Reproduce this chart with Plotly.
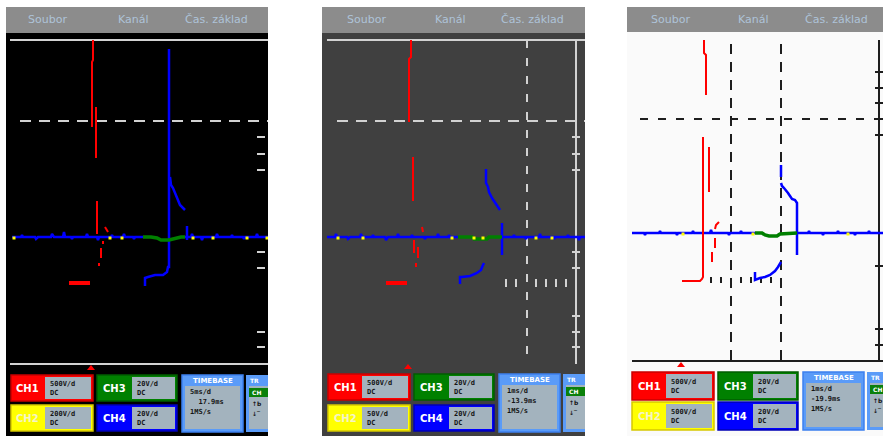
import plotly.graph_objects as go

W, H = 883, 436

HEADER_LABELS = ['Soubor', 'Kanál', 'Čas. základ']
CHANNEL_NAMES = ['CH1', 'CH2', 'CH3', 'CH4']
P1_SETTINGS = ['500V/d<br>DC', '200V/d<br>DC', '20V/d<br>DC', '20V/d<br>DC']
P2_SETTINGS = ['500V/d<br>DC', '50V/d<br>DC', '20V/d<br>DC', '20V/d<br>DC']
P3_SETTINGS = ['500V/d<br>DC', '500V/d<br>DC', '20V/d<br>DC', '20V/d<br>DC']
TIMEBASE_TITLE = 'TIMEBASE'
P1_TIMEBASE = ['5ms/d', '  17.9ms', '1MS/s']
P2_TIMEBASE = ['1ms/d', '-13.9ms', '1MS/s']
P3_TIMEBASE = ['1ms/d', '-19.9ms', '1MS/s']
TRIGGER_TITLE = 'TRIG'
TRIGGER_SOURCE = 'CH4'
TRIGGER_LINES = ['↑b', '↓‾']

# panel 1 (black screen), x = samples, y = level from baseline
P1_RED_X = [82, 82, 81, 81, None, 85, 85, None, 86, 86, None, 94, 97, None, 92, 92, None, 90, 90, None, 88, 88]
P1_RED_Y = [197, 177, 175, 110, None, 130, 79, None, 36, 3, None, 10, 5, None, -4, -7, None, -11, -21, None, -26, -29]
P1_RED_BAR_X = [58, 79]
P1_RED_BAR_Y = [-46, -46]
P1_BLUE_X = [1, 10, 11, 12, 24, 25, 27, 40, 41, 43, 52, 53, 54, 60, 61, 62, 75, 76, 77, 86, 87, 88,
             100, 101, 102, 112, 113, 114, 122, 123, 124, 132, None,
             174, 180, 181, 182, 190, 191, 192, 205, 206, 207, 220, 221, 222, 232, 233, 234, 245, 246, 247,
             257, None,
             134, 134, 137, 144, 152, 156, 157, 158, 158, None,
             159, 160, 162, 164, 167, 169, 172, 174, None, 176, 176]
P1_BLUE_Y = [0, 0, 2, 0, 0, -2, 0, 0, 3, 0, 0, 5, 0, 0, -2, 0, 0, 3, 0, 0, -3, 0,
             0, 2, 0, 0, 3, 0, 0, -2, 0, 0, None,
             0, 0, 3, 0, 0, -3, 0, 0, 3, 0, 0, 2, 0, 0, -2, 0, 0, 3, 0,
             0, None,
             -49, -41, -40, -38, -38, -35, -30, -30, 188, None,
             60, 52, 49, 44, 37, 32, 29, 27, None, 11, -3]
P1_GREEN_X = [132, 140, 146, 150, 158, 166, 170, 174]
P1_GREEN_Y = [0, 0, -1, -3, -3, -1, 0, 0]
P1_YELLOW_X = [3, 99, 111, 182, 202, 236, 256]
P1_YELLOW_Y = [-1, -1, -1, -1, -1, -1, -1]

# panel 2 (dark grey screen)
P2_RED_X = [84, 84, 82, 82, None, 86, 86, None, 95, 96, None, 87, 87, None, 91, 91, None, 89, 89]
P2_RED_Y = [197, 180, 178, 115, None, 80, 36, None, 10, 5, None, -3, -16, None, -10, -21, None, -26, -30]
P2_RED_BAR_X = [59, 80]
P2_RED_BAR_Y = [-46, -46]
P2_BLUE_X = [0, 8, 9, 10, 20, 21, 23, 33, 34, 35, 45, 46, 47, 58, 59, 61, 70, 71, 72, 84, 85, 86,
             97, 98, 99, 110, 111, 112, 121, 122, 123, 131, None,
             175, 186, 187, 188, 198, 199, 200, 212, 213, 214, 226, 227, 228, 240, 241, 242, 251, 252, 253,
             258, None,
             133, 133, 135, 143, 150, 154, 156, 157, None,
             159, 159, 161, 162, 165, 168, 171, 173, None, 175, 175]
P2_BLUE_Y = [0, 0, 3, 0, 0, -2, 0, 0, 3, 0, 0, 2, 0, 0, -3, 0, 0, 3, 0, 0, 2, 0,
             0, -2, 0, 0, 3, 0, 0, 2, 0, 0, None,
             0, 0, 2, 0, 0, -2, 0, 0, 3, 0, 0, -2, 0, 0, 2, 0, 0, -3, 0,
             0, None,
             -47, -40, -40, -39, -36, -33, -28, -26, None,
             68, 54, 50, 45, 39, 34, 29, 27, None, 14, -18]
P2_GREEN_X = [131, 140, 145, 147, 160, 162, 170, 175]
P2_GREEN_Y = [0, 0, 0, -2, -2, 0, 0, 0]
P2_YELLOW_X = [11, 36, 125, 147, 156, 209, 225]
P2_YELLOW_Y = [-1, -1, -1, -1, -1, -1, -1]

# panel 3 (white screen)
P3_RED_X = [72, 72, 74, 74, None, 50, 68, 70, 71, 71, None, 77, 77, None, 83, 84, 86, 87, None, 83, 83, None, 80, 80]
P3_RED_Y = [194, 180, 178, 138, None, -48, -48, -46, -44, 96, None, 86, 41, None, 4, 8, 10, 11, None, -5, -15, None, -19, -29]
P3_BLUE_X = [0, 12, 13, 14, 27, 28, 29, 44, 45, 46, 60, 61, 62, 78, 79, 80, 96, 97, 98, 108, 109, 110,
             123, None,
             165, 176, 177, 178, 190, 191, 192, 205, 206, 207, 222, 223, 224, 236, 237, 238, 251, None,
             123, 123, 128, 133, 138, 143, 146, 149, None,
             149, 149, None, 149, 150, 152, 154, 156, 158, 160, 163, 165, 165]
P3_BLUE_Y = [0, 0, -2, 0, 0, 2, 0, 0, -2, 0, 0, 2, 0, 0, 3, 0, 0, -2, 0, 0, 2, 0,
             0, None,
             0, 0, 2, 0, 0, -2, 0, 0, 2, 0, 0, -2, 0, 0, 2, 0, 0, None,
             -39, -47, -45, -44, -42, -38, -34, -29, None,
             68, 56, None, 50, 47, 45, 43, 40, 37, 34, 33, 30, -22]
P3_GREEN_X = [123, 130, 133, 137, 145, 148, 165]
P3_GREEN_Y = [0, 0, -2, -3, -3, -1, 0]
P3_YELLOW_X = [51, 121, 216]
P3_YELLOW_Y = [-1, -1, -1]

PANELS = [
    dict(left=6, right=268, bg='#000000', grid='#d2d2d2', header_bottom=33,
         screen=(11, 268, 40, 364), base=237, xl=11, rows=(375, 405), row_h=26, tb_bottom=432,
         trig_mark=91, head_x=[47, 133, 216], settings=P1_SETTINGS, timebase=P1_TIMEBASE,
         red=(P1_RED_X, P1_RED_Y), bar=(P1_RED_BAR_X, P1_RED_BAR_Y), blue=(P1_BLUE_X, P1_BLUE_Y),
         green=(P1_GREEN_X, P1_GREEN_Y), yellow=(P1_YELLOW_X, P1_YELLOW_Y)),
    dict(left=322, right=585, bg='#404040', grid='#d2d2d2', header_bottom=33,
         screen=(327, 585, 40, 364), base=237, xl=328, rows=(374, 405), row_h=26, tb_bottom=432,
         trig_mark=408, head_x=[366, 450, 532], settings=P2_SETTINGS, timebase=P2_TIMEBASE,
         red=(P2_RED_X, P2_RED_Y), bar=(P2_RED_BAR_X, P2_RED_BAR_Y), blue=(P2_BLUE_X, P2_BLUE_Y),
         green=(P2_GREEN_X, P2_GREEN_Y), yellow=(P2_YELLOW_X, P2_YELLOW_Y)),
    dict(left=627, right=883, bg='#fafafa', grid='#1e1e1e', header_bottom=32,
         screen=(632, 883, 40, 361), base=233, xl=632, rows=(372, 402), row_h=28, tb_bottom=430,
         trig_mark=681, head_x=[670, 753, 836], settings=P3_SETTINGS, timebase=P3_TIMEBASE,
         red=(P3_RED_X, P3_RED_Y), bar=None, blue=(P3_BLUE_X, P3_BLUE_Y),
         green=(P3_GREEN_X, P3_GREEN_Y), yellow=(P3_YELLOW_X, P3_YELLOW_Y)),
]

BOX_COLORS = [('#ff0000', '#c80000', '#ffffff'), ('#ffff00', '#d6c800', '#f4f4c8'),
              ('#008000', '#005c00', '#ffffff'), ('#0000ff', '#0000b4', '#ffffff')]
INNER_GREY = '#a3b3be'
TB_BLUE = '#5a9bf8'


def rect(x0, y0, x1, y1, fill, line_color=None, line_width=0, layer='below'):
    return dict(type='rect', xref='paper', yref='paper', x0=x0 / W, x1=x1 / W,
                y0=1 - y1 / H, y1=1 - y0 / H, fillcolor=fill,
                line=dict(color=line_color or fill, width=line_width), layer=layer)


def line(x0, y0, x1, y1, color, width=2, dash='solid', layer='below'):
    return dict(type='line', xref='paper', yref='paper', x0=x0 / W, x1=x1 / W,
                y0=1 - y0 / H, y1=1 - y1 / H, line=dict(color=color, width=width, dash=dash), layer=layer)


def text(x, y, value, size, color, anchor='center', family='DejaVu Sans'):
    return dict(xref='paper', yref='paper', x=x / W, y=1 - y / H, text=value, showarrow=False,
                xanchor=anchor, yanchor='middle', align='left',
                font=dict(family=family, size=size, color=color))


def triangle(x, y, color):
    path = 'M {} {} L {} {} L {} {} Z'.format((x - 4) / W, 1 - (y + 2) / H, (x + 4) / W, 1 - (y + 2) / H,
                                               x / W, 1 - (y - 3) / H)
    return dict(type='path', xref='paper', yref='paper', path=path, fillcolor=color,
                line=dict(color=color, width=0), layer='above')


shapes = []
annotations = []
fig = go.Figure()

for i, p in enumerate(PANELS):
    sx0, sx1, sy0, sy1 = p['screen']
    g = p['grid']
    shapes.append(rect(p['left'], 7, p['right'], H, p['bg']))
    shapes.append(rect(p['left'], 7, p['right'], p['header_bottom'], '#8c8c8c'))
    for hx, lab in zip(p['head_x'], HEADER_LABELS):
        annotations.append(text(hx, 20, lab, 11, '#aec3d8'))

    if i == 0:
        shapes.append(line(10, 40, 268, 40, g))
        shapes.append(line(10, 364, 268, 364, g))
        shapes.append(line(20, 121, 268, 121, g, dash='11px,8px'))
        for ty in [137, 154, 170, 252, 268, 332, 347]:
            shapes.append(line(257, ty, 265, ty, g, width=2))
    elif i == 1:
        shapes.append(line(327, 40, 585, 40, g))
        shapes.append(line(337, 121, 585, 121, g, dash='11px,8px'))
        shapes.append(line(527, 40, 527, 356, g, dash='8px,10px'))
        shapes.append(line(576, 40, 576, 364, g))
        for ty in [137, 154, 170, 252, 268, 316, 332, 347]:
            shapes.append(line(572, ty, 580, ty, g))
        for tx in [506, 516, 536, 546, 556, 566]:
            shapes.append(line(tx, 279, tx, 287, g))
    else:
        shapes.append(line(632, 361, 883, 361, g))
        shapes.append(line(640, 119, 883, 119, g, dash='8px,10px'))
        shapes.append(line(731, 44, 731, 361, g, dash='10px,8px'))
        shapes.append(line(781, 44, 781, 361, g, dash='10px,8px'))
        shapes.append(line(879, 40, 879, 361, g))
        for ty in [72, 88, 103, 119, 135, 266, 329, 345]:
            shapes.append(line(875, ty, 883, ty, g))
        for tx in [711, 721, 741, 751, 761, 771]:
            shapes.append(line(tx, 277, tx, 283, g))

    # channel boxes
    xl = p['xl']
    rh = p['row_h']
    shapes.append(triangle(p['trig_mark'], p['rows'][0] - 7, '#ff0000'))
    cols = [(0, 82, 34, 80), (86, 166, 121, 164)]
    for k, name in enumerate(CHANNEL_NAMES):
        c0, c1, i0, i1 = cols[k // 2]
        ry = p['rows'][k % 2]
        fill, border, fg = BOX_COLORS[k]
        shapes.append(rect(xl + c0, ry, xl + c1, ry + rh, fill, border, 1.5, layer='above'))
        shapes.append(rect(xl + i0, ry + 2, xl + i1, ry + rh - 2, INNER_GREY, layer='above'))
        annotations.append(text(xl + c0 + 17, ry + rh / 2, '<b>' + name + '</b>', 10, fg))
        annotations.append(text(xl + i0 + 3, ry + rh / 2, '<b>' + p['settings'][k] + '</b>', 7,
                                '#151515', anchor='left', family='DejaVu Sans Mono'))

    # timebase box
    t0, t1 = xl + 171, xl + 232
    ty0 = p['rows'][0]
    shapes.append(rect(t0, ty0, t1, p['tb_bottom'], TB_BLUE, '#3d80ee', 1.5, layer='above'))
    shapes.append(rect(t0 + 3, ty0 + 11, t1 - 3, p['tb_bottom'] - 3, INNER_GREY, layer='above'))
    annotations.append(text((t0 + t1) / 2, ty0 + 5.5, '<b>' + TIMEBASE_TITLE + '</b>', 7, '#ffffff'))
    for n, val in enumerate(p['timebase']):
        annotations.append(text(t0 + 6, ty0 + 17 + n * 10, '<b>' + val + '</b>', 7, '#151515',
                                anchor='left', family='DejaVu Sans Mono'))

    # trigger box, cut by the panel edge
    g0 = xl + 235
    shapes.append(rect(g0, ty0, p['right'], p['tb_bottom'], TB_BLUE, layer='above'))
    shapes.append(rect(g0 + 3, ty0 + 11, p['right'], p['tb_bottom'] - 3, INNER_GREY, layer='above'))
    shapes.append(rect(g0 + 3, ty0 + 13, p['right'], ty0 + 22, '#0a800a', layer='above'))
    annotations.append(text(g0 + 2, ty0 + 5.5, '<b>' + TRIGGER_TITLE[:2] + '</b>', 6, '#ffffff', anchor='left'))
    annotations.append(text(g0 + 4, ty0 + 17.5, '<b>' + TRIGGER_SOURCE[:2] + '</b>', 6, '#ffffff', anchor='left'))
    for n, val in enumerate(TRIGGER_LINES):
        annotations.append(text(g0 + 4, ty0 + 28 + n * 10, '<b>' + val + '</b>', 6, '#151515', anchor='left'))

    # waveforms
    suffix = '' if i == 0 else str(i + 1)
    xa, ya = 'x' + suffix, 'y' + suffix
    fig.add_trace(go.Scatter(x=p['blue'][0], y=p['blue'][1], mode='lines', xaxis=xa, yaxis=ya,
                             line=dict(color='#0000ff', width=2.5), connectgaps=False, hoverinfo='skip'))
    fig.add_trace(go.Scatter(x=p['green'][0], y=p['green'][1], mode='lines', xaxis=xa, yaxis=ya,
                             line=dict(color='#008000', width=3.5), hoverinfo='skip'))
    fig.add_trace(go.Scatter(x=p['yellow'][0], y=p['yellow'][1], mode='markers', xaxis=xa, yaxis=ya,
                             marker=dict(color='#ffff00', size=3, symbol='square'), hoverinfo='skip'))
    fig.add_trace(go.Scatter(x=p['red'][0], y=p['red'][1], mode='lines', xaxis=xa, yaxis=ya,
                             line=dict(color='#ff0000', width=2), connectgaps=False, hoverinfo='skip'))
    if p['bar']:
        fig.add_trace(go.Scatter(x=p['bar'][0], y=p['bar'][1], mode='lines', xaxis=xa, yaxis=ya,
                                 line=dict(color='#ff0000', width=4), hoverinfo='skip'))

    axis_x = dict(domain=[sx0 / W, sx1 / W], range=[0, sx1 - sx0], visible=False, anchor=ya, fixedrange=True)
    axis_y = dict(domain=[1 - sy1 / H, 1 - sy0 / H], range=[p['base'] - sy1, p['base'] - sy0],
                  visible=False, anchor=xa, fixedrange=True)
    fig.update_layout(**{'xaxis' + suffix: axis_x, 'yaxis' + suffix: axis_y})

fig.update_layout(width=W, height=H, margin=dict(l=0, r=0, t=0, b=0), showlegend=False,
                  paper_bgcolor='#ffffff', plot_bgcolor='rgba(0,0,0,0)',
                  shapes=shapes, annotations=annotations)

# the page's default body margin would shift the figure by 8px
fig.write_html('out.html', config={'displayModeBar': False},
               post_script="document.body.style.margin='0';")
